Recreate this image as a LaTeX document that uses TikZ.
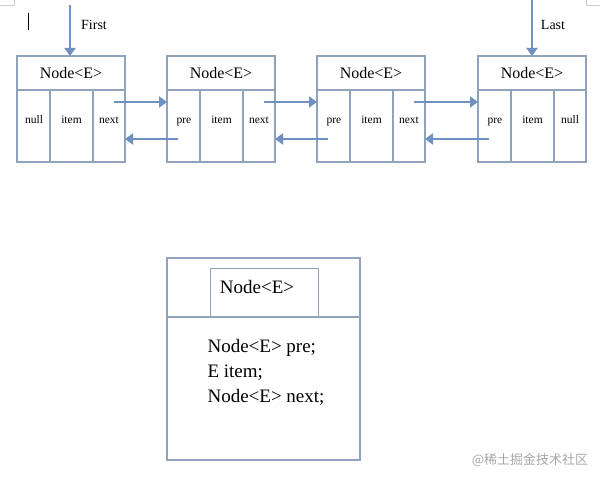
\documentclass[tikz,border=0pt]{standalone}
\usepackage{fontspec}
\setmainfont{Liberation Serif}
\newfontfamily\cjk{Noto Sans CJK SC}
\usetikzlibrary{arrows.meta}
\definecolor{bord}{HTML}{8FA3BC}
\definecolor{arr}{HTML}{6F90C0}
\begin{document}
\begin{tikzpicture}[x=1pt,y=-1pt,
  box/.style={draw=bord,line width=1.2pt},
  sep/.style={draw=bord,line width=2pt},
  link/.style={draw=arr,line width=2.5pt,-{Triangle[length=8pt,width=11pt]}},
  cell/.style={font=\fontsize{11.5}{12}\selectfont},
  head/.style={font=\fontsize{16}{18}\selectfont}]
\useasboundingbox (0,0) rectangle (600,481);
% cursor and page corner
\draw[black,line width=0.8pt] (28,13) -- (28,30);
\draw[gray!40,line width=0.5pt] (14,0) -- (14,5) -- (0,5);
\draw[gray!40,line width=0.5pt] (586,0) -- (586,5) -- (600,5);
% list nodes
\foreach \n/\x/\a/\b in {1/17/null/item,2/167/pre/item,3/317/pre/item,4/478/pre/item}{
  \draw[box] (\x,56) rectangle ++(108,106);
  \draw[sep] (\x,90) -- ++(108,0);
  \draw[sep] (\x+33,90) -- ++(0,72);
  \draw[sep] (\x+76,90) -- ++(0,72);
  \node[head] (h\n) at (\x+54,73) {Node<E>};
  \node[cell,anchor=base] (a\n) at (\x+17,124) {\a};
  \node[cell,anchor=base] (b\n) at (\x+54.5,124) {\b};
  \coordinate (L\n) at (\x,0);
  \coordinate (R\n) at (\x+108,0);
}
\node[cell,anchor=base] (c1) at (17+92,124) {next};
\node[cell,anchor=base] (c2) at (167+92,124) {next};
\node[cell,anchor=base] (c3) at (317+92,124) {next};
\node[cell,anchor=base] (c4) at (478+92,124) {null};
% links
\foreach \i/\j in {1/2,2/3,3/4}{
  \draw[link] ([xshift=-11pt]R\i |- 0,102) -- (L\j |- 0,102);
  \draw[link] ([xshift=11pt]L\j |- 0,139) -- (R\i |- 0,139);
}
% First / Last
\coordinate (f0) at (70,5); \coordinate (f1) at (70,56);
\coordinate (l0) at (532,0); \coordinate (l1) at (532,56);
\draw[link] (f0) -- (f1);
\draw[link] (l0) -- (l1);
\node[font=\fontsize{14}{15}\selectfont] (first) at (94,25) {First};
\node[font=\fontsize{14}{15}\selectfont] (last) at (553,25) {Last};
% bottom class box
\draw[box] (167,258) rectangle (360,460);
\draw[draw=bord,line width=0.5pt] (210,268) rectangle (318,317);
\draw[sep] (167,317) -- (360,317);
\node[font=\fontsize{19}{20}\selectfont] (hb) at (257,287) {Node<E>};
\node[font=\fontsize{19}{25}\selectfont,anchor=north west,align=left] (body) at (204,336)
 {Node<E> pre;\\E item;\\Node<E> next;};
\node[font=\cjk\fontsize{13}{14}\selectfont,text=gray!70] (wm) at (530,460) {@稀土掘金技术社区};
\end{tikzpicture}
\end{document}
